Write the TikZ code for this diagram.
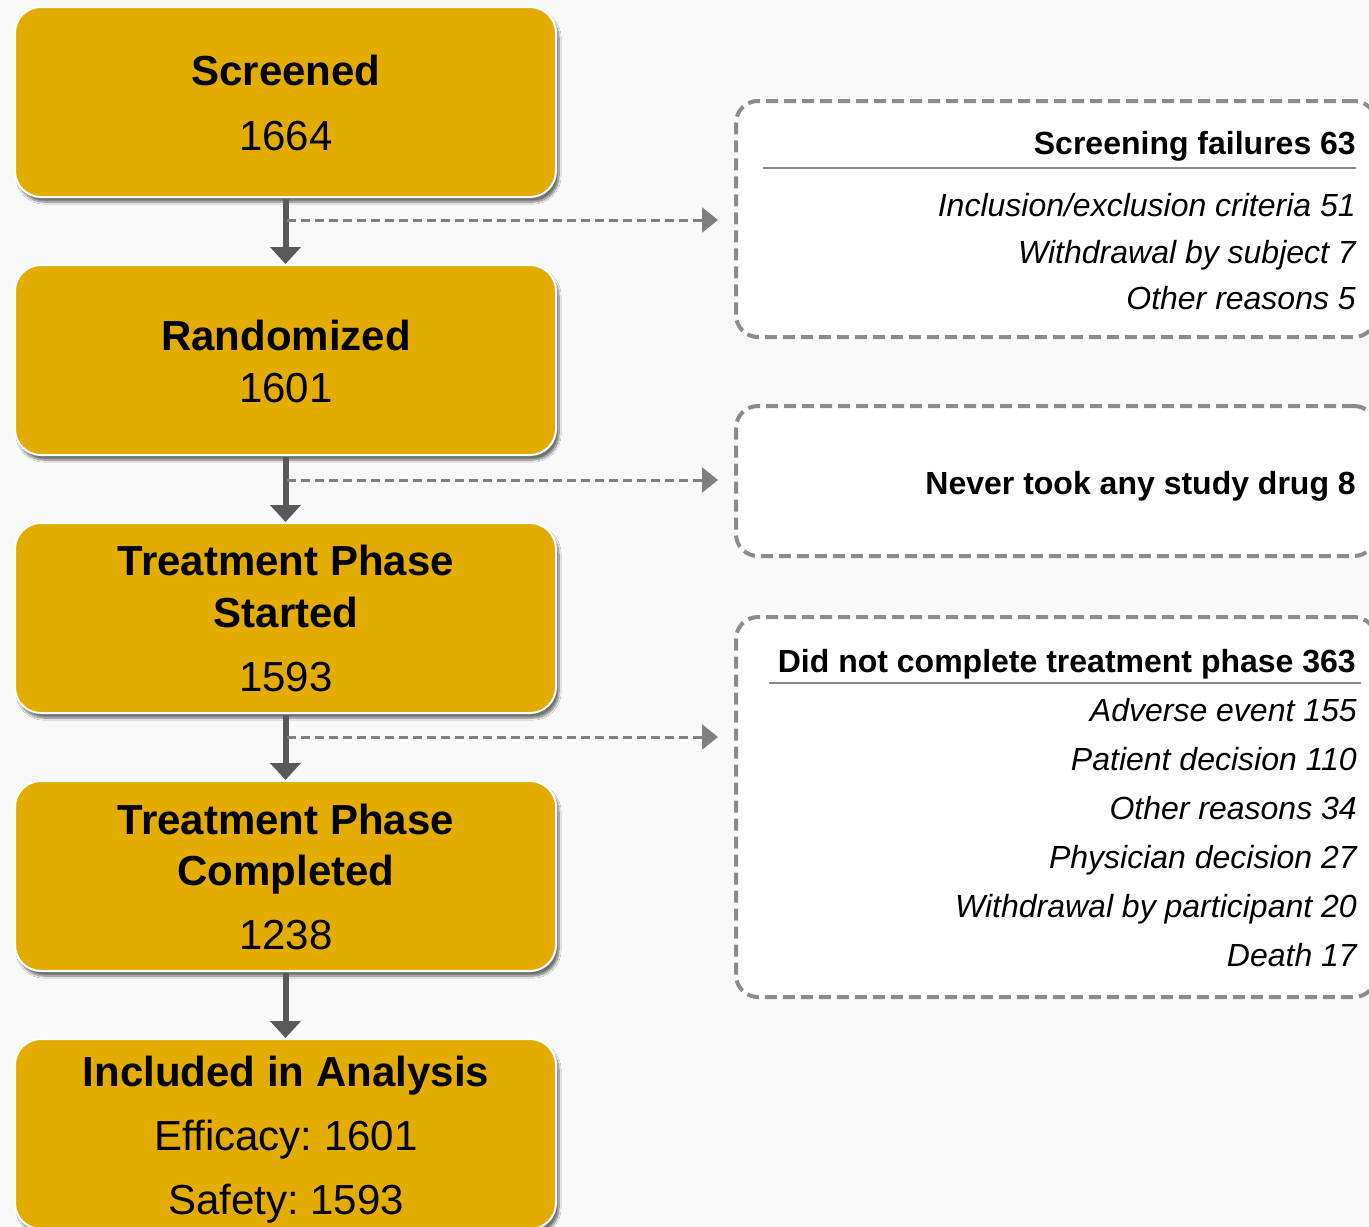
\documentclass[tikz,border=0pt]{standalone}
\usepackage{fontspec}
\setmainfont{Liberation Sans}
\usetikzlibrary{arrows.meta,shadows.blur}
\definecolor{bg}{HTML}{F9F9F9}
\definecolor{gold}{HTML}{E3AC00}
\definecolor{dgray}{HTML}{595959}
\definecolor{mgray}{HTML}{808080}
\definecolor{bgray}{HTML}{8C8C8C}
\definecolor{lgray}{HTML}{8A8A8A}
\frenchspacing
\begin{document}
\begin{tikzpicture}[x=1pt,y=-1pt,
  stagebox/.style={draw=white, line width=2pt, fill=gold, rounded corners=26pt,
    minimum width=541pt, minimum height=190pt, inner sep=0pt,
    blur shadow={shadow xshift=3pt, shadow yshift=-5pt, shadow blur steps=10, shadow opacity=55}},
  sidebox/.style={draw=bgray, line width=4pt, dash pattern=on 12pt off 6pt, fill=white,
    rounded corners=22pt, inner sep=0pt, minimum width=640pt},
  bigbold/.style={font=\fontsize{42}{50}\selectfont\bfseries, anchor=base, inner sep=0pt},
  bignum/.style={font=\fontsize{42}{50}\selectfont, anchor=base, inner sep=0pt},
  sidehead/.style={font=\fontsize{32}{38}\selectfont\bfseries, anchor=base east, inner sep=0pt},
  sideitem/.style={font=\fontsize{32}{38}\selectfont\itshape, anchor=base east, inner sep=0pt},
  varrow/.style={draw=dgray, line width=6pt, -{Triangle[width=30pt,length=17pt]}, shorten <=1pt},
  darrow/.style={draw=mgray, line width=3pt, dash pattern=on 9pt off 5pt,
    -{Triangle[width=25pt,length=16pt]}, shorten >=16pt},
  rule/.style={draw=lgray, line width=1.5pt}
]
\useasboundingbox (0,0) rectangle (1369,1227);
\clip (0,0) rectangle (1369,1227);
\fill[bg] (0,0) rectangle (1369,1227);

% stage boxes
\node[stagebox] (s1) at (285.5,102) {};
\node[stagebox] (s2) at (285.5,360) {};
\node[stagebox] (s3) at (285.5,618) {};
\node[stagebox] (s4) at (285.5,876) {};
\node[stagebox] (s5) at (285.5,1134) {};

\node[bigbold] (t1a) at (286,85) {Screened};
\node[bignum]  (t1b) at (286,150) {1664};
\node[bigbold] (t2a) at (286,350) {Randomized};
\node[bignum]  (t2b) at (286,402) {1601};
\node[bigbold] (t3a) at (286,575) {Treatment Phase};
\node[bigbold] (t3b) at (286,627) {Started};
\node[bignum]  (t3c) at (286,691) {1593};
\node[bigbold] (t4a) at (286,834) {Treatment Phase};
\node[bigbold] (t4b) at (286,885) {Completed};
\node[bignum]  (t4c) at (286,949) {1238};
\node[bigbold] (t5a) at (286,1086) {Included in Analysis};
\node[bignum]  (t5b) at (286,1150) {Efficacy: 1601};
\node[bignum]  (t5c) at (286,1214) {Safety: 1593};

% side boxes
\node[sidebox, minimum height=236pt] (fa) at (1056,219) {};
\node[sidebox, minimum height=150pt] (fb) at (1056,481) {};
\node[sidebox, minimum height=380pt] (fc) at (1056,807) {};

\node[sidehead] (ha) at (1356,154) {Screening failures 63};
\coordinate (ra1) at (763,168);
\coordinate (ra2) at (1356,168);
\draw[rule] (ra1) -- (ra2);
\node[sideitem] (ia1) at (1356,216) {Inclusion/exclusion criteria 51};
\node[sideitem] (ia2) at (1356,263) {Withdrawal by subject 7};
\node[sideitem] (ia3) at (1356,309) {Other reasons 5};

\node[sidehead] (hb) at (1356,494) {Never took any study drug 8};

\node[sidehead] (hc) at (1356,672) {Did not complete treatment phase 363};
\coordinate (rc1) at (769,683);
\coordinate (rc2) at (1361,683);
\draw[rule] (rc1) -- (rc2);
\node[sideitem] (ic1) at (1357,721) {Adverse event 155};
\node[sideitem] (ic2) at (1357,770) {Patient decision 110};
\node[sideitem] (ic3) at (1357,819) {Other reasons 34};
\node[sideitem] (ic4) at (1357,868) {Physician decision 27};
\node[sideitem] (ic5) at (1357,917) {Withdrawal by participant 20};
\node[sideitem] (ic6) at (1357,966) {Death 17};

% connectors
\draw[varrow] (s1) -- (s2);
\draw[varrow] (s2) -- (s3);
\draw[varrow] (s3) -- (s4);
\draw[varrow] (s4) -- (s5);

\coordinate (j1) at (287,220);
\coordinate (j2) at (287,480);
\coordinate (j3) at (287,737);
\draw[darrow] (j1) -- (j1 -| fa.west);
\draw[darrow] (j2) -- (j2 -| fb.west);
\draw[darrow] (j3) -- (j3 -| fc.west);
\end{tikzpicture}
\end{document}
